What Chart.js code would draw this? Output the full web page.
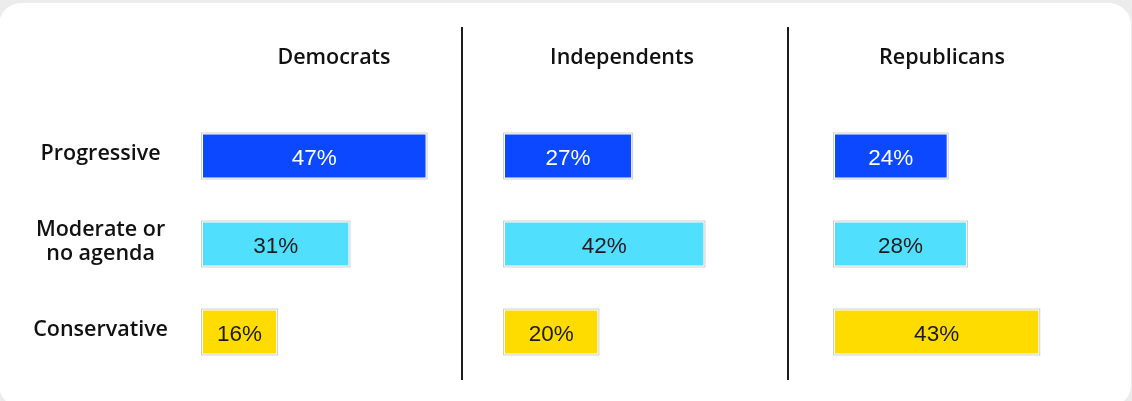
<!DOCTYPE html>
<html>
<head>
<meta charset="utf-8">
<script src="https://cdn.jsdelivr.net/npm/chart.js@4.4.0/dist/chart.umd.min.js"></script>
<style>
  html, body { margin: 0; padding: 0; background: #ececec; }
  #wrap { position: relative; width: 1132px; height: 401px; overflow: hidden; background: #ececec; }
  #card { position: absolute; left: -1px; top: 3px; width: 1132px; height: 404px; background: #fff; border-radius: 22px; }
  .divider { position: absolute; top: 27px; height: 353px; width: 2px; background: #1c1c1c; }
  canvas { position: absolute; top: 0; }
</style>
</head>
<body>
<div id="wrap">
  <div id="card"></div>
  <div class="divider" style="left:461px"></div>
  <div class="divider" style="left:787px"></div>
  <canvas id="c0"></canvas>
  <canvas id="c1"></canvas>
  <canvas id="c2"></canvas>
</div>
<script>
var groups = ['Democrats', 'Independents', 'Republicans'];
var agendas = [['Progressive'], ['Moderate or', 'no agenda'], ['Conservative']];
var democrats = [47, 31, 16];
var independents = [27, 42, 20];
var republicans = [24, 28, 43];

var bar_colors = ['#0b48ff', '#50e0fe', '#ffdc00'];
var label_colors = ['#ffffff', '#1b1b1b', '#1b1b1b'];

// horizontal pixels per percentage point, shared by all three panels
var PX_PER_PCT = 4.82;

var panels = [
    {canvas: 'c0', values: democrats,    left: 0,   axisLeft: 201, titleCenter: 334, rowLabels: true},
    {canvas: 'c1', values: independents, left: 503, axisLeft: 503, titleCenter: 622, rowLabels: false},
    {canvas: 'c2', values: republicans,  left: 833, axisLeft: 833, titleCenter: 942, rowLabels: false}
];

// the font is narrower than the original, so open the text up a little
var textSpacing = {
    id: 'textSpacing',
    beforeInit: function(chart) { chart.ctx.letterSpacing = '1.6px'; }
};

// thin grey outline just outside each bar's white border
var barOutline = {
    id: 'barOutline',
    afterDatasetsDraw: function(chart) {
        var ctx = chart.ctx;
        ctx.save();
        ctx.strokeStyle = '#cfcfcf';
        ctx.lineWidth = 1;
        chart.getDatasetMeta(0).data.forEach(function(bar) {
            var h = bar.height;
            ctx.strokeRect(bar.base + 0.5, bar.y - h / 2 + 0.5, bar.x - bar.base - 1, h - 1);
        });
        ctx.restore();
    }
};

// percentage written in the middle of each bar
var valueLabels = {
    id: 'valueLabels',
    afterDatasetsDraw: function(chart) {
        var ctx = chart.ctx;
        var data = chart.data.datasets[0].data;
        ctx.save();
        ctx.letterSpacing = '0px';
        ctx.font = '400 22.5px "Liberation Sans", Arial, sans-serif';
        ctx.textAlign = 'center';
        ctx.textBaseline = 'middle';
        chart.getDatasetMeta(0).data.forEach(function(bar, i) {
            ctx.fillStyle = label_colors[i];
            ctx.fillText(data[i] + '%', (bar.x + bar.base) / 2, bar.y + 3);
        });
        ctx.restore();
    }
};

panels.forEach(function(p, n) {
    var span = (p.titleCenter - p.axisLeft) * 2;
    var canvas = document.getElementById(p.canvas);
    canvas.width = (p.axisLeft - p.left) + span;
    canvas.height = 401;
    canvas.style.left = p.left + 'px';

    var yAxis = {
        display: p.rowLabels,
        grid: {display: false, drawTicks: false},
        border: {display: false},
        ticks: {
            padding: 33,
            labelOffset: -2,
            crossAlign: 'center',
            color: '#111111',
            font: {family: '"Open Sans", sans-serif', size: 21.5, weight: '600', lineHeight: 1.12}
        }
    };
    if (p.rowLabels) {
        yAxis.afterFit = function(scale) {
            scale.width = p.axisLeft - p.left;
            scale.paddingTop = 0;
            scale.paddingBottom = 0;
        };
    }

    new Chart(canvas, {
        type: 'bar',
        data: {
            labels: agendas,
            datasets: [{
                data: p.values,
                backgroundColor: bar_colors,
                borderColor: '#ffffff',
                borderWidth: 2,
                borderSkipped: false,
                categoryPercentage: 1,
                barPercentage: 47 / 88
            }]
        },
        options: {
            indexAxis: 'y',
            responsive: false,
            animation: false,
            layout: {padding: {top: 0, left: 0, right: 0, bottom: 25}},
            plugins: {
                legend: {display: false},
                tooltip: {enabled: false}
            },
            scales: {
                x: {
                    position: 'top',
                    min: 0,
                    max: span / PX_PER_PCT,
                    grid: {display: false, drawTicks: false},
                    border: {display: false},
                    ticks: {display: false},
                    title: {
                        display: true,
                        text: groups[n],
                        color: '#111111',
                        font: {family: '"Open Sans", sans-serif', size: 21.5, weight: '600'},
                        padding: {top: 45, bottom: 0}
                    },
                    afterFit: function(scale) { scale.height = 112; }
                },
                y: yAxis
            }
        },
        plugins: [textSpacing, barOutline, valueLabels]
    });
});
</script>
</body>
</html>
